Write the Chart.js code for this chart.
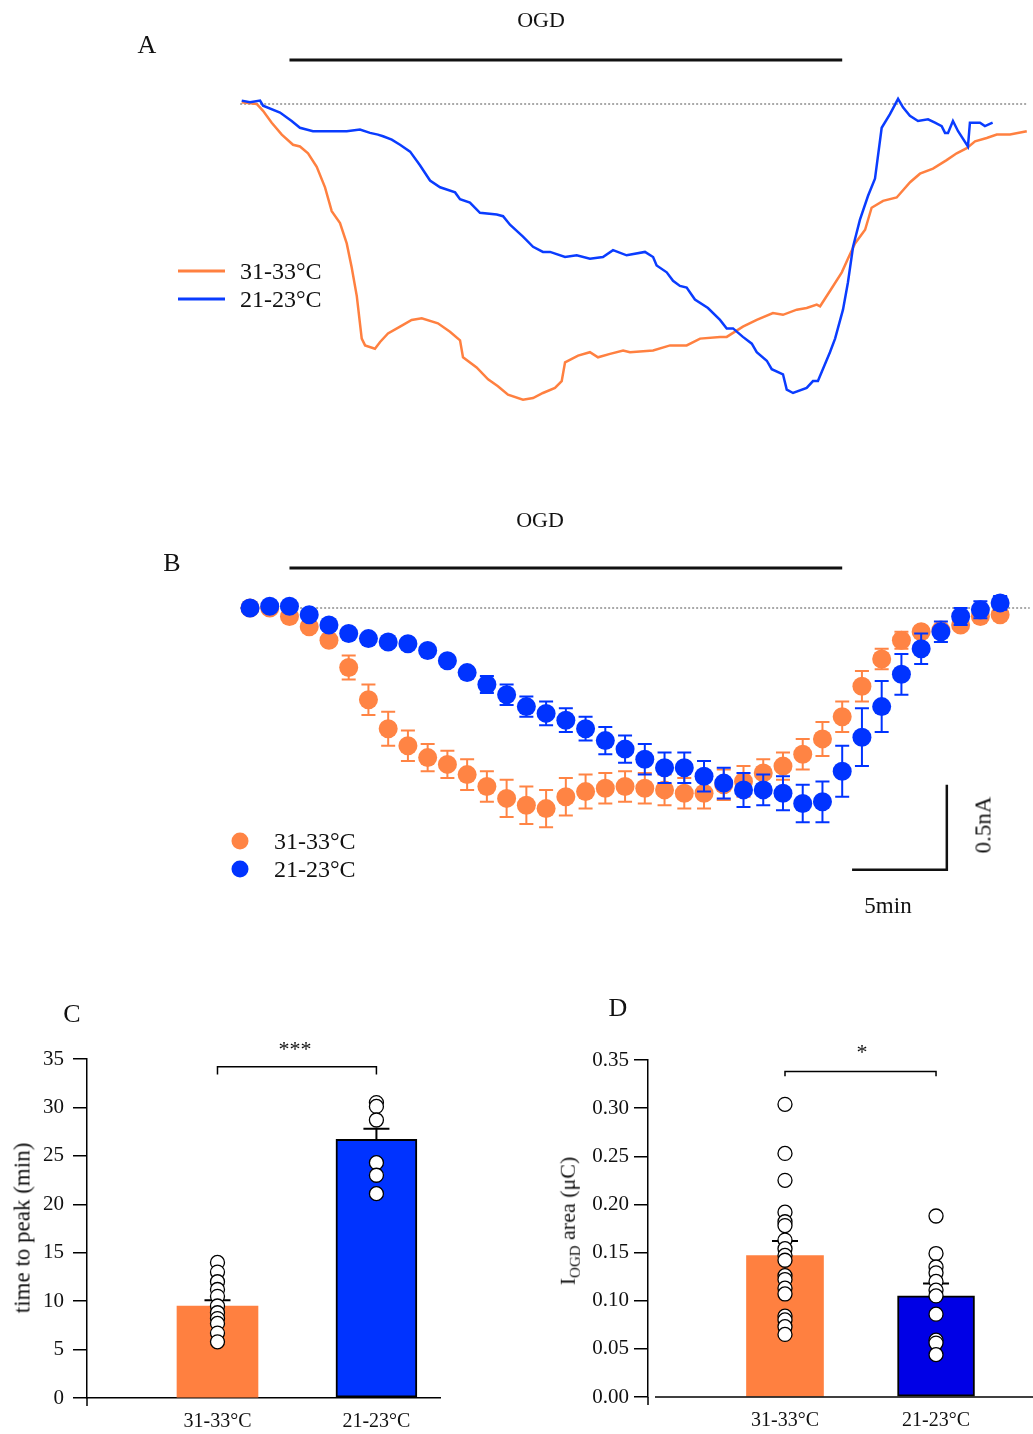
<!DOCTYPE html>
<html>
<head>
<meta charset="utf-8">
<script src="https://cdn.jsdelivr.net/npm/chart.js@4.4.1/dist/chart.umd.min.js"></script>
<style>
  body { margin: 0; background: #fff; }
  #fig { position: relative; width: 1033px; height: 1434px; overflow: hidden; font-family: "Liberation Serif", "Times New Roman", serif; color: #111; }
  canvas { position: absolute; }
  .t { position: absolute; white-space: nowrap; line-height: 1; transform: translate(-50%, -50%); }
  .l { position: absolute; white-space: nowrap; line-height: 1; transform: translate(0, -50%); font-size: 24px; }
  .r { position: absolute; white-space: nowrap; line-height: 1; transform: translate(-50%, -50%) rotate(-90deg); }
  .sw { position: absolute; height: 3px; width: 47px; transform: translate(0, -50%); }
  .dot { position: absolute; width: 17px; height: 17px; border-radius: 50%; transform: translate(-50%, -50%); }
</style>
</head>
<body>
<div id="fig">
  <canvas id="chartA" width="1033" height="480" style="left:0;top:0"></canvas>
  <canvas id="chartB" width="1033" height="460" style="left:0;top:480px"></canvas>
  <canvas id="chartC" width="470" height="454" style="left:0;top:980px"></canvas>
  <canvas id="chartD" width="473" height="454" style="left:560px;top:980px"></canvas>

  <div class="t" style="left:147px;top:45px;font-size:26px">A</div>
  <div class="t" style="left:541px;top:20px;font-size:22px">OGD</div>
  <div class="sw" style="left:178px;top:271px;background:#FF8040"></div>
  <div class="sw" style="left:178px;top:299px;background:#0A3CFF"></div>
  <div class="l" style="left:240px;top:271px">31-33°C</div>
  <div class="l" style="left:240px;top:299px">21-23°C</div>

  <div class="t" style="left:172px;top:563px;font-size:26px">B</div>
  <div class="t" style="left:540px;top:520px;font-size:22px">OGD</div>
  <div class="dot" style="left:240px;top:841px;background:#FF8444"></div>
  <div class="dot" style="left:240px;top:869px;background:#0033FF"></div>
  <div class="l" style="left:274px;top:841px">31-33°C</div>
  <div class="l" style="left:274px;top:869px">21-23°C</div>
  <div class="t" style="left:888px;top:905px;font-size:23px">5min</div>
  <div class="r" style="left:983px;top:825px;font-size:23px">0.5nA</div>

  <div class="t" style="left:72px;top:1014px;font-size:26px">C</div>
  <div class="t" style="left:295px;top:1049px;font-size:22px">***</div>
  <div class="r" style="left:22px;top:1228px;font-size:23px">time to peak (min)</div>

  <div class="t" style="left:618px;top:1008px;font-size:26px">D</div>
  <div class="t" style="left:862px;top:1052px;font-size:22px">*</div>
  <div class="r" style="left:570px;top:1221px;font-size:22px">I<sub style="font-size:15px">OGD</sub> area (μC)</div>
</div>

<script>
// ---------- data ----------
// panel A: example traces, time (min) and current (nA)
const warmTraceT = [-0.42,0.34,0.66,1.10,1.61,2.18,2.53,2.94,3.38,3.80,4.14,4.56,4.90,5.15,5.41,5.66,5.83,6.33,6.59,6.99,7.60,8.19,8.70,9.52,10.13,10.64,10.79,11.48,12.06,12.56,13.07,13.83,14.34,14.84,15.45,15.79,15.96,16.62,17.22,17.63,18.24,18.90,19.25,20.42,21.28,22.12,22.80,23.81,24.15,24.97,25.67,26.49,27.00,27.70,28.20,28.71,28.88,29.38,29.98,30.29,30.65,31.16,31.49,32.07,32.76,33.44,33.94,34.60,35.29,35.80,36.31,36.73,37.32,37.83,38.50,39.35];
const warmTraceI = [0.01,0.00,-0.04,-0.11,-0.18,-0.24,-0.25,-0.29,-0.37,-0.49,-0.63,-0.70,-0.82,-0.96,-1.13,-1.38,-1.42,-1.44,-1.40,-1.35,-1.31,-1.27,-1.26,-1.29,-1.34,-1.39,-1.49,-1.55,-1.62,-1.66,-1.71,-1.74,-1.73,-1.70,-1.67,-1.63,-1.52,-1.48,-1.46,-1.49,-1.47,-1.45,-1.46,-1.45,-1.42,-1.42,-1.38,-1.37,-1.37,-1.31,-1.27,-1.23,-1.24,-1.21,-1.20,-1.18,-1.19,-1.10,-0.99,-0.91,-0.82,-0.74,-0.61,-0.57,-0.55,-0.46,-0.41,-0.38,-0.33,-0.29,-0.26,-0.22,-0.20,-0.18,-0.18,-0.16];
const coolTraceT = [-0.42,0.00,0.51,0.66,1.52,2.11,2.53,3.19,4.05,4.90,5.57,6.08,6.48,6.74,7.18,7.60,8.11,8.61,9.12,9.63,10.39,10.64,11.14,11.65,12.50,12.82,13.17,13.83,14.34,14.84,15.20,15.96,16.55,17.22,17.88,18.39,19.08,20.01,20.42,20.60,21.11,21.43,21.78,22.12,22.54,23.20,23.81,24.15,24.47,24.97,25.42,25.67,26.18,26.43,27.00,27.19,27.51,28.20,28.52,28.77,29.38,29.64,30.04,30.29,30.55,30.90,31.31,31.66,32.00,32.42,32.83,33.08,33.43,33.84,34.35,34.70,35.04,35.21,35.36,35.61,35.87,36.37,36.47,36.98,37.23,37.62];
const coolTraceI = [0.02,0.01,0.02,-0.01,-0.05,-0.10,-0.14,-0.16,-0.16,-0.16,-0.15,-0.17,-0.18,-0.19,-0.21,-0.24,-0.28,-0.36,-0.45,-0.49,-0.52,-0.56,-0.58,-0.64,-0.65,-0.66,-0.71,-0.78,-0.84,-0.87,-0.87,-0.90,-0.89,-0.91,-0.90,-0.86,-0.89,-0.87,-0.90,-0.95,-0.99,-1.04,-1.07,-1.08,-1.15,-1.20,-1.27,-1.32,-1.32,-1.37,-1.41,-1.46,-1.51,-1.56,-1.59,-1.68,-1.70,-1.67,-1.63,-1.63,-1.46,-1.38,-1.21,-1.05,-0.84,-0.68,-0.54,-0.44,-0.14,-0.06,0.03,-0.02,-0.07,-0.10,-0.09,-0.11,-0.13,-0.17,-0.17,-0.10,-0.16,-0.25,-0.11,-0.11,-0.13,-0.11];

// panel B: mean +- sem, one point per minute (nA)
const minutes = [0,1,2,3,4,5,6,7,8,9,10,11,12,13,14,15,16,17,18,19,20,21,22,23,24,25,26,27,28,29,30,31,32,33,34,35,36,37,38];
const warmMean = [0.00,0.00,-0.05,-0.11,-0.19,-0.35,-0.54,-0.71,-0.81,-0.88,-0.92,-0.98,-1.05,-1.12,-1.16,-1.18,-1.11,-1.08,-1.06,-1.05,-1.06,-1.07,-1.09,-1.09,-1.04,-1.02,-0.97,-0.93,-0.86,-0.77,-0.64,-0.46,-0.30,-0.19,-0.14,-0.13,-0.10,-0.05,-0.04];
const warmSem  = [0,0,0.01,0.02,0.02,0.07,0.09,0.10,0.09,0.08,0.08,0.09,0.09,0.11,0.11,0.11,0.11,0.10,0.09,0.09,0.09,0.09,0.09,0.09,0.09,0.09,0.08,0.08,0.09,0.10,0.09,0.09,0.06,0.05,0.03,0.02,0.02,0.02,0.02];
const coolMean = [0.00,0.01,0.01,-0.04,-0.10,-0.15,-0.18,-0.20,-0.21,-0.25,-0.31,-0.38,-0.45,-0.51,-0.58,-0.62,-0.66,-0.71,-0.78,-0.83,-0.89,-0.94,-0.94,-0.99,-1.03,-1.07,-1.07,-1.09,-1.15,-1.14,-0.96,-0.76,-0.58,-0.39,-0.24,-0.14,-0.05,-0.01,0.03];
const coolSem  = [0,0,0,0.01,0.01,0.01,0.01,0.01,0.01,0.01,0.02,0.02,0.05,0.06,0.06,0.07,0.07,0.07,0.08,0.08,0.09,0.09,0.09,0.09,0.09,0.10,0.09,0.10,0.11,0.12,0.15,0.17,0.15,0.12,0.09,0.06,0.05,0.05,0.04];
const ogdStart = 2, ogdEnd = 30;

// panels C and D
const groups = ['31-33°C', '21-23°C'];
const peakMean = [9.5, 26.7];
const peakSem = [0.6, 1.1];
const peakWarm = [14.0, 13.0, 12.0, 11.2, 10.5, 9.5, 8.8, 8.2, 7.7, 6.7, 5.8];
const peakCool = [30.5, 30.1, 28.7, 24.3, 23.0, 21.1];
const areaMean = [0.147, 0.105];
const areaSem = [0.015, 0.013];
const areaWarm = [0.304, 0.253, 0.225, 0.192, 0.182, 0.178, 0.163, 0.154, 0.147, 0.142, 0.126, 0.122, 0.113, 0.107, 0.084, 0.080, 0.073, 0.065];
const areaCool = [0.188, 0.149, 0.135, 0.129, 0.120, 0.111, 0.105, 0.086, 0.059, 0.056, 0.044];

// ---------- style ----------
const FONT = '"Liberation Serif", "Times New Roman", serif';
const ORANGE = '#FF8040';
const ORANGE_PT = '#FF8444';
const BLUE_LINE = '#0A3CFF';
const BLUE = '#0033FF';
const BLUE_DARK = '#0000E6';
const INK = '#111';

// time axis placement shared by A and B (page pixels)
const X0 = 250, PX_PER_MIN = 19.74, PX_PER_NA = 170;

Chart.defaults.font.family = FONT;
Chart.defaults.color = INK;

const base = {
  responsive: false,
  animation: false,
  devicePixelRatio: 1,
  plugins: { legend: { display: false }, tooltip: { enabled: false } }
};

function timePadding(xmin, xmax, W, zeroY, ymin, ymax, H) {
  return {
    left: X0 + PX_PER_MIN * xmin,
    right: W - (X0 + PX_PER_MIN * xmax),
    top: zeroY - PX_PER_NA * ymax,
    bottom: H - (zeroY - PX_PER_NA * ymin)
  };
}

function dottedZero(chart, t0, t1) {
  const { ctx, scales: { x, y } } = chart;
  ctx.save();
  ctx.strokeStyle = '#555';
  ctx.lineWidth = 1;
  ctx.setLineDash([2, 2]);
  ctx.beginPath();
  ctx.moveTo(x.getPixelForValue(t0), y.getPixelForValue(0));
  ctx.lineTo(x.getPixelForValue(t1), y.getPixelForValue(0));
  ctx.stroke();
  ctx.restore();
}

function ogdBar(chart, py) {
  const { ctx, scales: { x } } = chart;
  ctx.save();
  ctx.strokeStyle = INK;
  ctx.lineWidth = 3;
  ctx.beginPath();
  ctx.moveTo(x.getPixelForValue(ogdStart), py);
  ctx.lineTo(x.getPixelForValue(ogdEnd), py);
  ctx.stroke();
  ctx.restore();
}

// ---------- A: traces ----------
new Chart(document.getElementById('chartA'), {
  type: 'line',
  data: {
    datasets: [
      { data: coolTraceT.map((t, i) => ({ x: t, y: coolTraceI[i] })), borderColor: BLUE_LINE, borderWidth: 2.5, pointRadius: 0, tension: 0 },
      { data: warmTraceT.map((t, i) => ({ x: t, y: warmTraceI[i] })), borderColor: ORANGE, borderWidth: 2.5, pointRadius: 0, tension: 0 }
    ]
  },
  options: {
    ...base,
    layout: { autoPadding: false, padding: timePadding(-1, 39.4, 1033, 104, -1.8, 0.1, 480) },
    scales: {
      x: { type: 'linear', display: false, min: -1, max: 39.4 },
      y: { display: false, min: -1.8, max: 0.1 }
    }
  },
  plugins: [{
    id: 'decoA',
    beforeDatasetsDraw(chart) { dottedZero(chart, -0.5, 39.35); },
    afterDraw(chart) { ogdBar(chart, 60); }
  }]
});

// ---------- B: mean +- sem ----------
function errorBars(chart, meta, means, sems, color, capW) {
  const { ctx, scales: { y } } = chart;
  ctx.save();
  ctx.strokeStyle = color;
  ctx.lineWidth = 2;
  meta.data.forEach((pt, i) => {
    const e = sems[i];
    if (!e) return;
    const yt = y.getPixelForValue(means[i] + e);
    const yb = y.getPixelForValue(means[i] - e);
    ctx.beginPath();
    ctx.moveTo(pt.x, yt); ctx.lineTo(pt.x, yb);
    ctx.moveTo(pt.x - capW / 2, yt); ctx.lineTo(pt.x + capW / 2, yt);
    ctx.moveTo(pt.x - capW / 2, yb); ctx.lineTo(pt.x + capW / 2, yb);
    ctx.stroke();
  });
  ctx.restore();
}

new Chart(document.getElementById('chartB'), {
  type: 'scatter',
  data: {
    datasets: [
      { data: minutes.map((m, i) => ({ x: m, y: coolMean[i] })), means: coolMean, sems: coolSem, color: BLUE,
        pointRadius: 9.5, pointBackgroundColor: BLUE, pointBorderWidth: 0, order: 0, clip: false },
      { data: minutes.map((m, i) => ({ x: m, y: warmMean[i] })), means: warmMean, sems: warmSem, color: ORANGE_PT,
        pointRadius: 9.5, pointBackgroundColor: ORANGE_PT, pointBorderWidth: 0, order: 1, clip: false }
    ]
  },
  options: {
    ...base,
    layout: { autoPadding: false, padding: timePadding(-1, 39, 1033, 128, -1.6, 0.12, 460) },
    scales: {
      x: { type: 'linear', display: false, min: -1, max: 39 },
      y: { display: false, min: -1.6, max: 0.12 }
    }
  },
  plugins: [{
    id: 'decoB',
    beforeDatasetsDraw(chart) { dottedZero(chart, -0.5, 39.5); },
    beforeDatasetDraw(chart, args) {
      const ds = chart.data.datasets[args.index];
      errorBars(chart, args.meta, ds.means, ds.sems, ds.color, 14);
    },
    afterDraw(chart) {
      ogdBar(chart, 88);
      // scale bars: 5 min and 0.5 nA
      const { ctx, scales: { x, y } } = chart;
      ctx.save();
      ctx.strokeStyle = INK;
      ctx.lineWidth = 2.5;
      ctx.beginPath();
      ctx.moveTo(x.getPixelForValue(30.5), y.getPixelForValue(-1.54));
      ctx.lineTo(x.getPixelForValue(35.3), y.getPixelForValue(-1.54));
      ctx.lineTo(x.getPixelForValue(35.3), y.getPixelForValue(-1.04));
      ctx.stroke();
      ctx.restore();
    }
  }]
});

// ---------- C and D: bars + individual cells ----------
function barPanel(id, opts) {
  const yTicks = opts.yTicks;
  new Chart(document.getElementById(id), {
    type: 'bar',
    data: {
      datasets: [
        { type: 'bar', data: opts.mean.map((v, i) => ({ x: i + 1, y: v })),
          backgroundColor: [ORANGE, opts.blue], borderColor: ['rgba(0,0,0,0)', '#000'], borderWidth: [0, 2],
          borderSkipped: false, barThickness: opts.barW, order: 2 },
        { type: 'scatter', data: opts.warm.map(v => ({ x: 1, y: v })).concat(opts.cool.map(v => ({ x: 2, y: v }))),
          pointRadius: 7, pointBackgroundColor: '#fff', pointBorderColor: '#000', pointBorderWidth: 1.3, order: 1, clip: false }
      ]
    },
    options: {
      ...base,
      layout: { autoPadding: false, padding: opts.padding },
      scales: {
        x: {
          type: 'linear', min: opts.xmin, max: opts.xmax, offset: false,
          afterBuildTicks(s) { s.ticks = [{ value: 1 }, { value: 2 }]; },
          afterFit(s) { s.height = opts.xH; s.paddingLeft = 0; s.paddingRight = 0; },
          ticks: { callback: v => groups[v - 1], font: { size: 20 }, padding: 12, maxRotation: 0 },
          grid: { drawOnChartArea: false, drawTicks: false, offset: false },
          border: { display: opts.xBorder, color: '#000', width: 1.5 }
        },
        y: {
          min: 0, max: yTicks[yTicks.length - 1],
          afterBuildTicks(s) { s.ticks = yTicks.map(v => ({ value: v })); },
          afterFit(s) { s.width = 60; },
          ticks: { font: { size: 21 }, padding: opts.yPad, callback: opts.yFmt },
          grid: { drawOnChartArea: false, tickLength: 14, color: '#000', lineWidth: 1.5 },
          border: { color: '#000', width: 1.5 }
        }
      }
    },
    plugins: [{
      id: 'deco' + id,
      afterDatasetDraw(chart, args) {
        if (args.index !== 0) return;
        const { ctx, scales: { x, y } } = chart;
        ctx.save();
        ctx.strokeStyle = '#000';
        ctx.lineWidth = 2;
        opts.mean.forEach((m, i) => {
          const px = x.getPixelForValue(i + 1);
          const yt = y.getPixelForValue(m + opts.sem[i]);
          ctx.beginPath();
          ctx.moveTo(px, y.getPixelForValue(m)); ctx.lineTo(px, yt);
          ctx.moveTo(px - 13, yt); ctx.lineTo(px + 13, yt);
          ctx.stroke();
        });
        ctx.restore();
      },
      afterDraw(chart) {
        const { ctx, chartArea, scales: { x, y } } = chart;
        ctx.save();
        ctx.strokeStyle = '#000';
        ctx.lineWidth = 1.5;
        // y axis runs a little past zero
        ctx.beginPath();
        ctx.moveTo(chartArea.left, chartArea.bottom);
        ctx.lineTo(chartArea.left, chartArea.bottom + 8);
        ctx.stroke();
        if (!opts.xBorder) {
          ctx.beginPath();
          ctx.moveTo(chartArea.left + 7, chartArea.bottom);
          ctx.lineTo(chartArea.right, chartArea.bottom);
          ctx.stroke();
        }
        // significance bracket
        const x1 = x.getPixelForValue(1), x2 = x.getPixelForValue(2);
        const yb = y.getPixelForValue(opts.bracket[0]), yd = y.getPixelForValue(opts.bracket[1]);
        ctx.beginPath();
        ctx.moveTo(x1, yd); ctx.lineTo(x1, yb); ctx.lineTo(x2, yb); ctx.lineTo(x2, yd);
        ctx.stroke();
        ctx.restore();
      }
    }]
  });
}

barPanel('chartC', {
  mean: peakMean, sem: peakSem, warm: peakWarm, cool: peakCool, blue: BLUE,
  yTicks: [0, 5, 10, 15, 20, 25, 30, 35], yFmt: v => String(v), yPad: 9,
  xmin: 0.179, xmax: 2.40, barW: 81, xH: 36, xBorder: true,
  padding: { left: 27, top: 79, right: 30, bottom: 0 },
  bracket: [34.2, 33.4]
});

barPanel('chartD', {
  mean: areaMean, sem: areaSem, warm: areaWarm, cool: areaCool, blue: BLUE_DARK,
  yTicks: [0, 0.05, 0.10, 0.15, 0.20, 0.25, 0.30, 0.35], yFmt: v => v.toFixed(2), yPad: 5,
  xmin: 0.093, xmax: 2.642, barW: 77, xH: 37, xBorder: false,
  padding: { left: 28, top: 80, right: 0, bottom: 0 },
  bracket: [0.338, 0.333]
});
</script>
</body>
</html>
